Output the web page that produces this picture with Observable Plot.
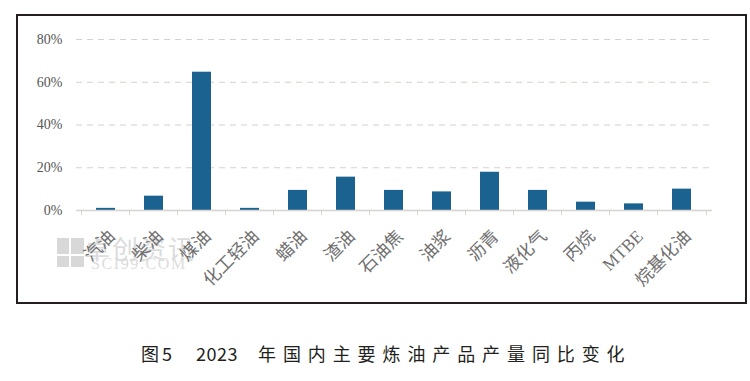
<!DOCTYPE html>
<html><head><meta charset="utf-8">
<script src="https://cdn.jsdelivr.net/npm/d3@7"></script>
<script src="https://cdn.jsdelivr.net/npm/@observablehq/plot@0.6"></script>
<style>
body{margin:0;background:#fff;width:750px;height:381px;position:relative;overflow:hidden;}
#box{position:absolute;left:16px;top:14px;width:727px;height:286px;border:2px solid #231f20;background:#fff;}
.cap{position:absolute;top:344px;font-family:"Noto Sans CJK SC","Noto Sans",sans-serif;font-size:18px;line-height:18px;color:#231f20;white-space:pre;}
.wm{position:absolute;color:#dcdcdc;white-space:pre;}
#logo{position:absolute;left:57px;top:238px;width:27px;height:29px;background:#d8d8d8;}
#logo:before{content:"";position:absolute;left:12px;top:0;width:2px;height:29px;background:#fff;}
#logo:after{content:"";position:absolute;left:0;top:16px;width:27px;height:2px;background:#fff;}
</style></head>
<body>
<div id="box"></div>
<div id="logo"></div>
<div class="wm" id="wm1" style="left:84px;top:229px;font-family:'Noto Sans CJK SC',sans-serif;font-size:26px;letter-spacing:2px;"></div>
<div class="wm" id="wm2" style="left:91px;top:255px;font-family:'Liberation Serif',serif;font-size:16px;letter-spacing:1.6px;"></div>
<div class="cap" id="c1" style="left:141px"></div>
<div class="cap" id="c2" style="left:162px"></div>
<div class="cap" id="c3" style="left:196px;letter-spacing:0.5px"></div>
<div class="cap" id="c4" style="left:258px;letter-spacing:6.9px"></div>
<script>
const categories = ["汽油","柴油","煤油","化工轻油","蜡油","渣油","石油焦","油浆","沥青","液化气","丙烷","MTBE","烷基化油"];
const values = [1.0, 6.7, 64.7, 1.0, 9.4, 15.6, 9.4, 8.7, 17.9, 9.4, 3.9, 3.1, 10.0];
const yTicks = [0, 20, 40, 60, 80];
const captionParts = ["图", "5", "2023", "年国内主要炼油产品产量同比变化"];
const watermark = ["卓创资讯", "SCI99.COM"];

["c1","c2","c3","c4"].forEach((id, i) => document.getElementById(id).textContent = captionParts[i]);
document.getElementById("wm1").textContent = watermark[0];
document.getElementById("wm2").textContent = watermark[1];

const data = categories.map((c, i) => ({cat: c, value: values[i]}));
const W = 727, H = 286, ml = 58, mr = 33, mt = 23, mb = 92;
const step = (W - ml - mr) / categories.length;
const serif = "'Liberation Serif','Noto Sans CJK SC',serif";

const chart = Plot.plot({
  width: W, height: H,
  marginLeft: ml, marginRight: mr, marginTop: mt, marginBottom: mb,
  style: {background: "transparent", fontFamily: serif},
  x: {domain: categories, paddingInner: 0.6, paddingOuter: 0.3, axis: null},
  y: {domain: [0, 80], axis: null},
  marks: [
    Plot.gridY(yTicks.filter(d => d > 0), {stroke: "#d9cfcb", strokeOpacity: 1, strokeDasharray: "6,5", strokeWidth: 1}),
    Plot.axisY({ticks: yTicks, tickSize: 0, tickPadding: 14, tickFormat: d => d + "%", fontSize: 14, fill: "#555", fontFamily: serif, label: null}),
    Plot.barY(data, {x: "cat", y: "value", fill: "#1b6290"}),
    Plot.ruleY([0], {stroke: "#d6d3d0", strokeWidth: 1.5}),
    Plot.ruleX(categories, {x: d => d, y1: 0, y2: 0, insetBottom: -5, dx: -step / 2, stroke: "#d6d3d0"}),
    Plot.ruleX(categories.slice(-1), {x: d => d, y1: 0, y2: 0, insetBottom: -5, dx: step / 2, stroke: "#d6d3d0"}),
    Plot.axisX({tickSize: 0, tickPadding: 23, tickRotate: -45, fontSize: 17.5, fill: "#707070", fontFamily: serif, dx: 6, label: null})
  ]
});
chart.style.position = "absolute";
chart.style.left = "18px";
chart.style.top = "16px";
document.body.appendChild(chart);
</script>
</body></html>
